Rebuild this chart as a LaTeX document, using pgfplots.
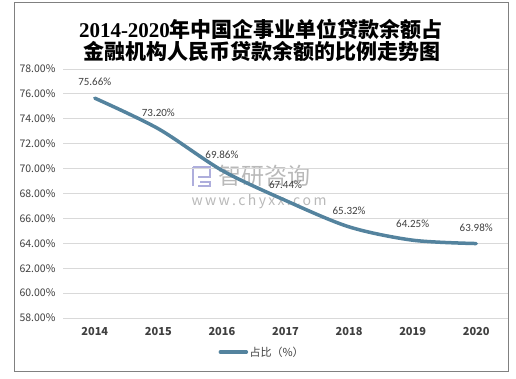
\documentclass[border=0pt]{standalone}
\usepackage{fontspec}
\usepackage{pgfplots}
\pgfplotsset{compat=1.18}
\setmainfont{Carlito}
\newfontfamily\cjk{Noto Sans CJK SC}
\newfontfamily\tms{Liberation Serif}
\definecolor{linec}{RGB}{84,131,158}
\definecolor{gridc}{RGB}{217,217,217}
\definecolor{txt}{RGB}{64,64,64}
\begin{document}
\begin{tikzpicture}[x=1pt,y=1pt]
\path[use as bounding box, fill=white] (0,0) rectangle (516,378);
\draw[color={rgb,255:red,128;green,128;blue,128}, line width=1pt] (14.5,7) rectangle (508,375);
% title
\node[font={\fontsize{21}{24}\selectfont\bfseries}, text=black] at (261,349) {{\tms 2014-2020}{\cjk 年中国企事业单位贷款余额占}};
\node[font={\fontsize{21}{24}\selectfont\cjk\bfseries}, text=black] at (262,327) {金融机构人民币贷款余额的比例走势图};
% watermark
\node[font={\fontsize{23}{26}\selectfont\cjk}, text=gray, opacity=0.55, anchor=west] at (215,202) {智研咨询};
\node[font={\fontsize{14}{16}\selectfont\cjk}, text=gray, opacity=0.55, anchor=west] at (188,176) {w\,w\,w\,.\,c\,h\,y\,x\,x\,.\,c\,o\,m};
\draw[blue!40!gray, opacity=0.45, line width=2.5pt] (193,211) -- (210,211) -- (210,201) -- (198,201) (193,211) -- (193,192) (200,196) -- (210,196) -- (210,192) -- (198,192);
\begin{axis}[
  at={(63pt,60pt)}, anchor=south west,
  width=445pt, height=249pt, scale only axis,
  xmin=-0.5, xmax=6.5, ymin=58, ymax=78,
  xtick={0,1,2,3,4,5,6},
  xticklabels={2014,2015,2016,2017,2018,2019,2020},
  ytick={58,60,62,64,66,68,70,72,74,76,78},
  yticklabel={\pgfmathprintnumber[fixed,fixed zerofill,precision=2]{\tick}\%},
  /pgf/number format/assume math mode=true,
  yticklabel style={font={\fontsize{10.5}{12}\selectfont\cjk}, text=txt, xshift=-4pt},
  xticklabel style={font={\fontsize{11}{12}\selectfont\cjk\bfseries}, text=txt, yshift=-6pt},
  axis line style={draw=none},
  major tick length=0pt,
  ymajorgrids, major grid style={gridc, line width=0.8pt},
  clip=false,
  legend style={at={(0.447,-0.137)}, anchor=center, draw=none, fill=none,
    font={\fontsize{11}{12}\selectfont\cjk}, text=txt, nodes={inner xsep=1.5pt},
    legend image code/.code={\draw[#1, line width=3.5pt, line cap=round] (2pt,0pt) -- (28pt,0pt);}},
]
\addplot[linec, line width=3.5pt, smooth, tension=0.5, line cap=round,
  nodes near coords={\pgfmathprintnumber[fixed,fixed zerofill,precision=2]{\pgfplotspointmeta}\%},
  every node near coord/.append style={font={\fontsize{11}{12}\selectfont}, text=txt, anchor=center, yshift=16pt},
  point meta=explicit] coordinates {
  (0,75.66) [75.66]
  (1,73.20) [73.20]
  (2,69.86) [69.86]
  (3,67.44) [67.44]
  (4,65.32) [65.32]
  (5,64.25) [64.25]
  (6,63.98) [63.98]
};
\addlegendentry{占比（\%）}
\end{axis}
\end{tikzpicture}
\end{document}
